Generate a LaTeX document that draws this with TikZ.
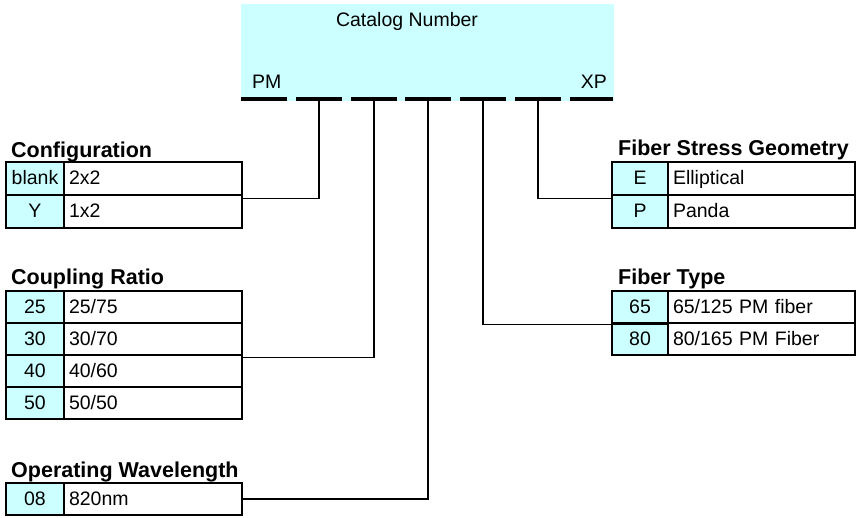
\documentclass[tikz,border=0pt]{standalone}
\usepackage{fontspec}
\setmainfont{Liberation Sans}
\definecolor{lcyan}{HTML}{CCFFFF}
\newcommand{\mybodyfont}{\fontsize{19.5}{21}\selectfont}
\newcommand{\mycatfont}{\fontsize{19.5}{21}\selectfont}
\newcommand{\myheadfont}{\fontsize{21.5}{23}\selectfont\bfseries}
\begin{document}
\begin{tikzpicture}[x=1pt,y=-1pt,
  tbl/.style={draw=black, line width=2.6pt},
  codecell/.style={tbl, fill=lcyan, inner sep=0pt, text height=12pt, text depth=0pt, font=\mybodyfont, align=center},
  lcode/.style={codecell, minimum width=58pt, minimum height=#1},
  rcode/.style={codecell, minimum width=56pt, minimum height=#1},
  valcell/.style={tbl, fill=white, inner xsep=5pt, inner ysep=0pt, text height=12pt, text depth=0pt, font=\mybodyfont, align=left},
  lval/.style={valcell, text width=168pt, minimum height=#1},
  rval/.style={valcell, text width=177pt, minimum height=#1},
  heading/.style={anchor=base west, inner sep=0pt, font=\myheadfont},
  dashseg/.style={fill=black, inner sep=0pt, minimum height=3.5pt},
  conn/.style={draw=black, line width=1.3pt},
  toptext/.style={inner sep=0pt, font=\mybodyfont}
]
\useasboundingbox (0,0) rectangle (858,517);

% catalog box
\node[fill=lcyan, inner sep=0pt, minimum width=373pt, minimum height=97pt] (cat) at (427.5,52.5) {};
\node[toptext, anchor=base, font=\mycatfont] (catlbl) at (407,26) {Catalog Number};
\node[toptext, anchor=base west] (pm) at (252,88) {PM};
\node[toptext, anchor=base east] (xp) at (607,88) {XP};

% dashes
\node[dashseg, minimum width=46pt] (d1) at (264,99) {};
\node[dashseg, minimum width=46pt] (d2) at (319,99) {};
\node[dashseg, minimum width=46pt] (d3) at (374,99) {};
\node[dashseg, minimum width=46pt] (d4) at (428,99) {};
\node[dashseg, minimum width=46pt] (d5) at (483,99) {};
\node[dashseg, minimum width=46pt] (d6) at (538,99) {};
\node[dashseg, minimum width=43pt] (d7) at (591.5,99) {};

% Configuration
\node[heading] (cfgh) at (11,157) {Configuration};
\node[lcode=33pt] (cfgc1) at (35,178.5) {blank};
\node[lval=33pt] (cfgv1) at (153,178.5) {2x2};
\node[lcode=33pt] (cfgc2) at (35,211.5) {Y};
\node[lval=33pt] (cfgv2) at (153,211.5) {1x2};

% Coupling Ratio
\node[heading] (cplh) at (11,284) {Coupling Ratio};
\node[lcode=32pt] (cplc1) at (35,307) {25};
\node[lval=32pt] (cplv1) at (153,307) {25/75};
\node[lcode=32pt] (cplc2) at (35,339) {30};
\node[lval=32pt] (cplv2) at (153,339) {30/70};
\node[lcode=32pt] (cplc3) at (35,371) {40};
\node[lval=32pt] (cplv3) at (153,371) {40/60};
\node[lcode=32pt] (cplc4) at (35,403) {50};
\node[lval=32pt] (cplv4) at (153,403) {50/50};

% Operating Wavelength
\node[heading] (wlh) at (11,477) {Operating Wavelength};
\node[lcode=32pt] (wlc1) at (35,499) {08};
\node[lval=32pt] (wlv1) at (153,499) {820nm};

% Fiber Stress Geometry
\node[heading] (sth) at (618,155) {Fiber Stress Geometry};
\node[rcode=33pt] (stc1) at (640,178.5) {E};
\node[rval=33pt] (stv1) at (761.5,178.5) {Elliptical};
\node[rcode=33pt] (stc2) at (640,211.5) {P};
\node[rval=33pt] (stv2) at (761.5,211.5) {Panda};

% Fiber Type
\node[heading] (fth) at (618,284) {Fiber Type};
\node[rcode=32pt] (ftc1) at (640,307) {65};
\node[rval=32pt] (ftv1) at (761.5,307) {65/125 PM fiber};
\node[rcode=32pt] (ftc2) at (640,339) {80};
\node[rval=32pt] (ftv2) at (761.5,339) {80/165 PM Fiber};

% connectors
\draw[conn] (d2.south) |- ([yshift=-2pt]cfgv1.south east);
\draw[conn] (d3.south) |- ([yshift=-1pt]cplv2.south east);
\draw[conn] (d4.south) |- (wlv1.east);
\draw[conn] (d5.south) |- (ftv1.south west);
\draw[conn] (d6.south) |- ([yshift=-2pt]stc1.south west);
\end{tikzpicture}
\end{document}
